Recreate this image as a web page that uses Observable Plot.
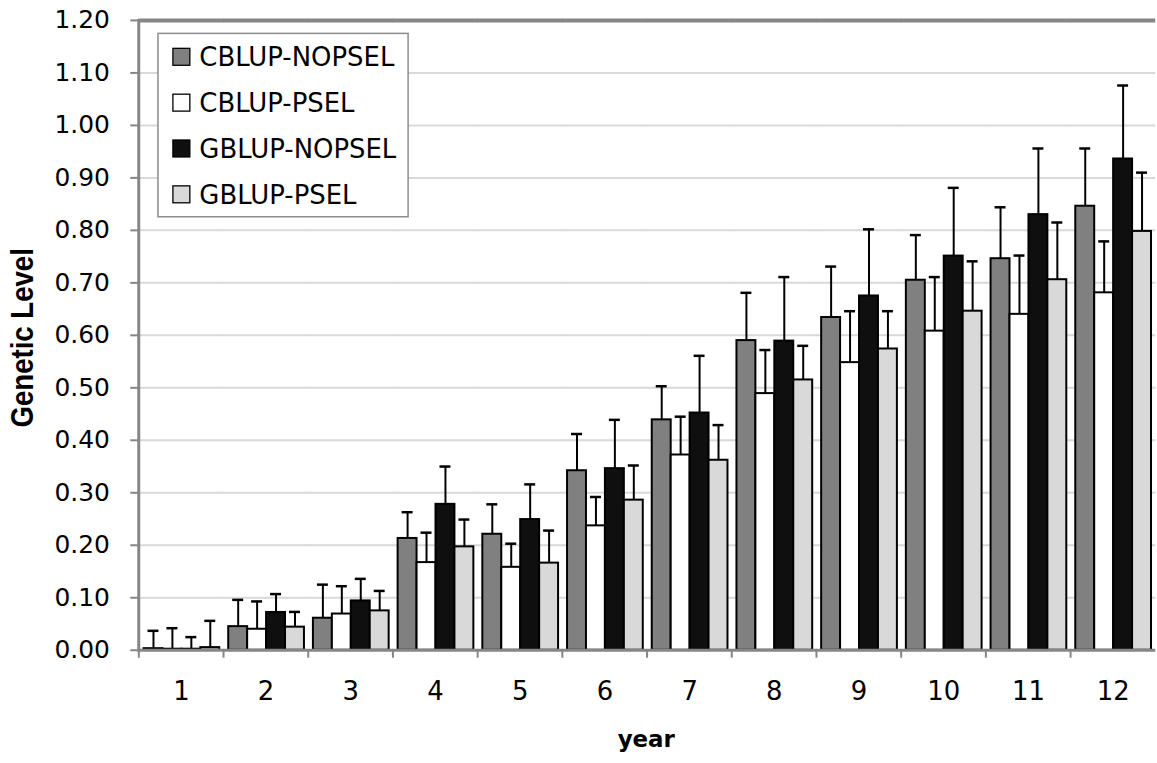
<!DOCTYPE html>
<html>
<head>
<meta charset="utf-8">
<script src="https://cdn.jsdelivr.net/npm/d3@7"></script>
<script src="https://cdn.jsdelivr.net/npm/@observablehq/plot@0.6"></script>
<style>
  html, body { margin: 0; padding: 0; background: white; overflow: hidden; }
  svg { display: block; }
</style>
</head>
<body>
<div id="chart"></div>
<script>
// ---------- data ----------
const years = [1, 2, 3, 4, 5, 6, 7, 8, 9, 10, 11, 12];
const series = ["CBLUP-NOPSEL", "CBLUP-PSEL", "GBLUP-NOPSEL", "GBLUP-PSEL"];
const seriesColors = ["#808080", "#ffffff", "#0f0f0f", "#d9d9d9"];

const cblupNopsel    = [0.003, 0.045, 0.061, 0.213, 0.221, 0.342, 0.439, 0.590, 0.634, 0.705, 0.746, 0.846];
const cblupNopselErr = [0.034, 0.051, 0.064, 0.050, 0.057, 0.070, 0.064, 0.091, 0.097, 0.086, 0.098, 0.110];
const cblupPsel      = [0.002, 0.040, 0.069, 0.167, 0.158, 0.237, 0.372, 0.489, 0.548, 0.608, 0.640, 0.681];
const cblupPselErr   = [0.040, 0.053, 0.053, 0.057, 0.045, 0.055, 0.073, 0.083, 0.098, 0.103, 0.112, 0.098];
const gblupNopsel    = [0.002, 0.072, 0.094, 0.278, 0.249, 0.346, 0.452, 0.589, 0.675, 0.751, 0.830, 0.936];
const gblupNopselErr = [0.023, 0.035, 0.042, 0.072, 0.067, 0.093, 0.109, 0.122, 0.127, 0.130, 0.126, 0.140];
const gblupPsel      = [0.005, 0.044, 0.075, 0.197, 0.166, 0.286, 0.362, 0.515, 0.574, 0.646, 0.706, 0.798];
const gblupPselErr   = [0.051, 0.029, 0.038, 0.052, 0.062, 0.066, 0.067, 0.065, 0.072, 0.095, 0.109, 0.112];

const yTicks = [0, 0.1, 0.2, 0.3, 0.4, 0.5, 0.6, 0.7, 0.8, 0.9, 1.0, 1.1, 1.2];
const yLabel = "Genetic Level";
const xLabel = "year";

// ---------- table ----------
const means = [cblupNopsel, cblupPsel, gblupNopsel, gblupPsel];
const errs  = [cblupNopselErr, cblupPselErr, gblupNopselErr, gblupPselErr];
const table = years.flatMap((yr, i) =>
  series.map((s, j) => ({year: yr, series: s, value: means[j][i], upper: means[j][i] + errs[j][i]}))
);

// ---------- layout ----------
const W = 1161, H = 763;
const ML = 136, MR = 0, MT = 20, MB = 111;
const PAD_IN = 0.1, PAD_OUT = 0.05;
const step = (W - ML - MR) / (years.length - PAD_IN + 2 * PAD_OUT);
const gapO = step * PAD_OUT;          // distance from group boundary to first bar
const bw = step * (1 - PAD_IN);       // group (facet) width
const TICK = 8, TICKPAD = 21;
const axisGray = "#868686";
const font = "'DejaVu Sans', sans-serif";
const fmt = d3.format(".2f");

const chart = Plot.plot({
  width: W, height: H,
  marginLeft: ML, marginRight: MR, marginTop: MT, marginBottom: MB,
  style: {fontFamily: font, fontSize: "25px", color: "black", background: "white"},
  fx: {domain: years, paddingInner: PAD_IN, paddingOuter: PAD_OUT, label: null},
  x: {domain: series, padding: 0, axis: null},
  y: {domain: [0, 1.2], axis: null},
  color: {domain: series, range: seriesColors},
  marks: [
    // gridlines (extended over the gaps between groups so they read as continuous)
    Plot.ruleY(yTicks.filter(v => v > 0 && v < 1.2), {stroke: "#d9d9d9", strokeWidth: 2, insetLeft: -gapO, insetRight: -gapO}),
    // bars and error bars
    Plot.barY(table, {fx: "year", x: "series", y: "value", fill: "series", stroke: "black", strokeWidth: 2}),
    Plot.ruleX(table, {fx: "year", x: "series", y1: "value", y2: "upper", stroke: "black", strokeWidth: 2}),
    Plot.tickY(table, {fx: "year", x: "series", y: "upper", stroke: "black", strokeWidth: 2.5, insetLeft: 4, insetRight: 4}),
    // plot border: bottom axis line, top border, left axis line
    Plot.ruleY([0], {stroke: axisGray, strokeWidth: 3, insetLeft: -gapO, insetRight: -gapO}),
    Plot.ruleY([1.2], {stroke: axisGray, strokeWidth: 4, insetLeft: -gapO, insetRight: -gapO}),
    Plot.frame({anchor: "left", facetAnchor: "left", stroke: axisGray, strokeWidth: 3, insetLeft: -gapO}),
    // y axis ticks and labels (left-most group only)
    Plot.ruleY(yTicks, {facetAnchor: "left", stroke: axisGray, strokeWidth: 2,
                        insetLeft: -(gapO + TICK), insetRight: bw + gapO}),
    Plot.text(yTicks, {facetAnchor: "left", frameAnchor: "left", y: d => d, text: d => fmt(d),
                       textAnchor: "end", dx: -(gapO + TICK + TICKPAD), fill: "black", fontSize: 25}),
    // x axis: ticks at group boundaries, labels at group centres
    Plot.axisFx({anchor: "bottom", tickSize: 8, tickFormat: () => "", stroke: axisGray, strokeWidth: 2,
                 dx: -step / 2, label: null}),
    Plot.axisFx({anchor: "bottom", tickSize: 0, tickPadding: 31, fill: "black", fontSize: 26, label: null})
  ]
});

document.getElementById("chart").appendChild(chart);

// ---------- axis titles & legend ----------
const svg = d3.select(chart);
svg.append("text")
  .attr("x", ML + (W - ML - MR) / 2).attr("y", 750)
  .attr("text-anchor", "middle")
  .style("font-family", font).style("font-weight", "bold").style("font-size", "23px")
  .attr("fill", "black")
  .text(xLabel);

svg.append("text")
  .attr("transform", "translate(33,339) rotate(-90)")
  .attr("text-anchor", "middle")
  .attr("textLength", 180).attr("lengthAdjust", "spacingAndGlyphs")
  .style("font-family", "'Liberation Sans', Arial, sans-serif")
  .style("font-weight", "bold").style("font-size", "31px")
  .attr("fill", "black")
  .text(yLabel);

const lg = svg.append("g").attr("text-anchor", "start");
lg.append("rect").attr("x", 158.5).attr("y", 33.5).attr("width", 251).attr("height", 184)
  .attr("fill", "white").attr("stroke", "#8c8c8c").attr("stroke-width", 1.5);
series.forEach((s, i) => {
  const cy = 57 + i * 46;
  lg.append("rect").attr("x", 173.5).attr("y", cy - 8.5).attr("width", 17).attr("height", 17)
    .attr("fill", seriesColors[i]).attr("stroke", "black").attr("stroke-width", 1.3);
  lg.append("text").attr("x", 200).attr("y", cy).attr("dy", "0.36em")
    .attr("text-anchor", "start")
    .style("font-family", font).style("font-size", "26px").attr("fill", "black")
    .text(s);
});
</script>
</body>
</html>
